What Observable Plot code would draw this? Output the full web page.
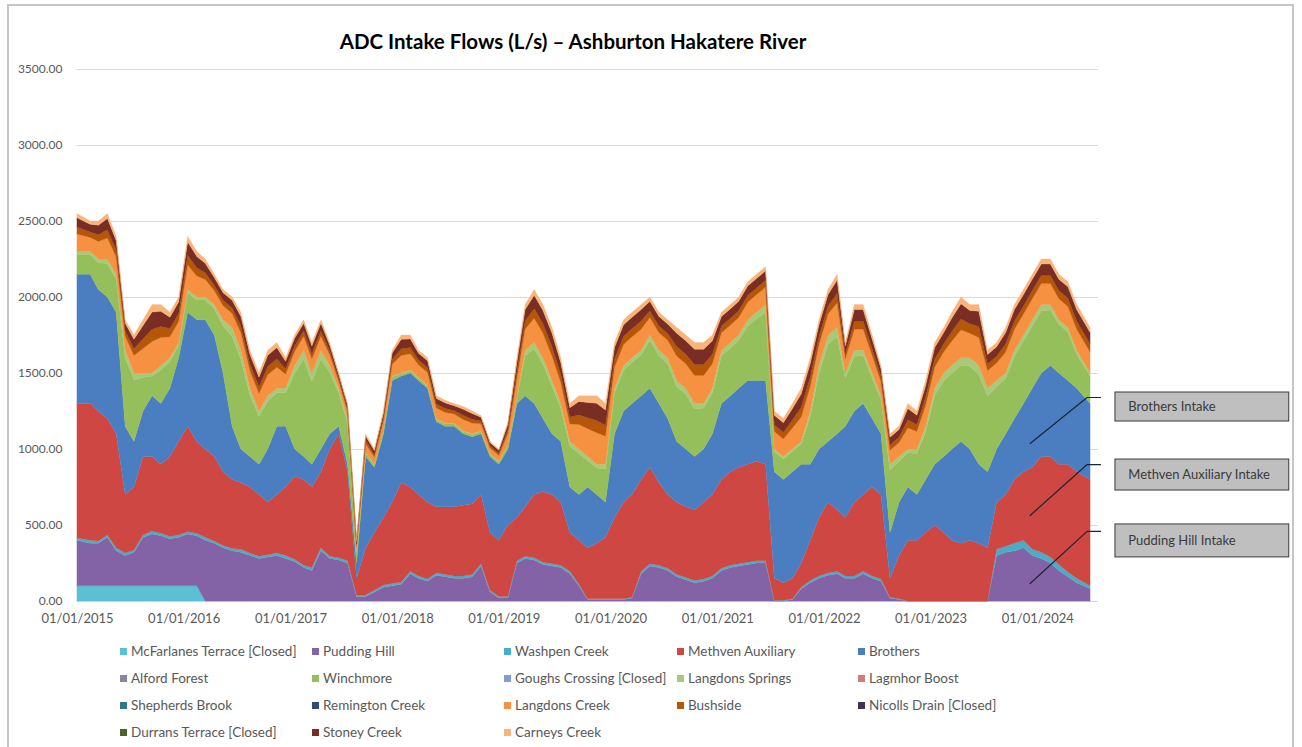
<!DOCTYPE html>
<html>
<head>
<meta charset="utf-8">
<script src="https://cdn.jsdelivr.net/npm/d3@7"></script>
<script src="https://cdn.jsdelivr.net/npm/@observablehq/plot@0.6"></script>
<style>
  html, body { margin: 0; padding: 0; background: #fff; }
  body { width: 1302px; height: 747px; position: relative; overflow: hidden; font-family: Lato, "Open Sans", sans-serif; }
  #frame { position: absolute; left: 7px; top: 4px; width: 1287px; height: 800px; border: 2px solid #c6c6c6; box-sizing: border-box; }
  #title { position: absolute; left: 0; top: 29px; width: 1146px; text-align: center; font-weight: 700; font-size: 20.5px; color: #000; z-index: 2; }
  #chart { position: absolute; left: 0; top: 0; z-index: 1; }
  #legend { position: absolute; left: 0; top: 0; width: 1302px; height: 747px; z-index: 2; font-size: 13.5px; color: #595959; }
  .item { position: absolute; white-space: nowrap; line-height: 16px; }
  .sw { display: inline-block; width: 7px; height: 7px; margin-right: 4px; vertical-align: 1px; }
</style>
</head>
<body>
<div id="frame"></div>
<div id="title">ADC Intake Flows (L/s) – Ashburton Hakatere River</div>
<div id="chart"></div>
<div id="legend"></div>
<script>
// ---------- DATA (monthly readings, Jan 2015 – Jun 2024, L/s) ----------
const seriesNames = [
  "McFarlanes Terrace [Closed]", "Pudding Hill", "Washpen Creek", "Methven Auxiliary", "Brothers",
  "Alford Forest", "Winchmore", "Goughs Crossing [Closed]", "Langdons Springs", "Lagmhor Boost",
  "Shepherds Brook", "Remington Creek", "Langdons Creek", "Bushside", "Nicolls Drain [Closed]",
  "Durrans Terrace [Closed]", "Stoney Creek", "Carneys Creek"
];
const seriesColors = [
  "#5cbfd2", "#8462a6", "#4bacc6", "#cf4742", "#4a7ec0",
  "#8c84a6", "#95bf5a", "#7f9fd3", "#a9c97a", "#d07c79",
  "#2e7a8c", "#2c4d75", "#f59140", "#b65708", "#403152",
  "#4f6228", "#7a2d22", "#f9b47a"
];
const tickYears = [2015, 2016, 2017, 2018, 2019, 2020, 2021, 2022, 2023, 2024];
const yTicks = [0, 500, 1000, 1500, 2000, 2500, 3000, 3500];

const mcfarlanesTerrace = [
  100,100,100,100,100,100,100,100,100,100,100,100,
  100,100,0,0,0,0,0,0,0,0,0,0,
  0,0,0,0,0,0,0,0,0,0,0,0,
  0,0,0,0,0,0,0,0,0,0,0,0,
  0,0,0,0,0,0,0,0,0,0,0,0,
  0,0,0,0,0,0,0,0,0,0,0,0,
  0,0,0,0,0,0,0,0,0,0,0,0,
  0,0,0,0,0,0,0,0,0,0,0,0,
  0,0,0,0,0,0,0,0,0,0,0,0,
  0,0,0,0,0,0
];
const puddingHill = [
  300,280,280,320,230,200,220,320,340,330,310,320,
  340,330,400,380,350,330,320,300,280,290,300,280,
  260,220,200,330,280,270,250,30,30,60,90,100,
  110,180,150,130,170,160,150,150,160,230,60,20,
  20,250,280,270,240,230,220,180,100,10,10,10,
  10,10,20,180,230,220,200,160,140,120,130,150,
  200,220,230,240,250,250,0,0,10,80,120,150,
  170,180,150,150,180,150,130,20,10,0,0,0,
  0,0,0,0,0,0,0,300,320,330,350,300,
  280,250,200,160,120,80
];
const washpenCreek = [
  15,20,15,15,20,15,15,15,20,15,15,15,
  15,15,20,15,15,15,20,15,15,15,15,20,
  15,15,20,20,15,15,15,10,10,10,15,15,
  15,15,15,15,15,15,15,15,15,15,10,10,
  10,15,15,15,15,15,15,15,10,5,5,5,
  5,5,5,15,15,15,15,15,15,15,15,15,
  15,15,15,15,15,15,5,5,5,10,15,15,
  15,15,15,15,15,15,15,5,5,0,0,0,
  0,0,0,0,0,0,0,40,40,50,50,40,
  40,40,40,30,30,20
];
const methvenAuxiliary = [
  885,900,855,765,750,385,415,515,490,455,525,615,
  695,605,580,555,485,455,440,435,405,345,385,450,
  545,565,530,500,705,815,585,110,310,380,445,535,
  655,555,535,505,435,445,455,465,465,455,380,370,
  470,285,325,415,465,455,415,255,290,335,365,405,
  535,635,675,605,635,545,485,475,465,465,505,535,
  585,615,635,645,655,635,145,115,135,160,265,385,
  465,405,385,485,505,585,555,125,285,400,400,450,
  500,450,400,380,400,380,350,310,340,420,450,540,
  630,660,660,710,700,700
];
const brothers = [
  850,850,800,800,800,450,300,300,400,400,450,550,
  750,800,850,800,650,350,220,200,200,350,450,400,
  180,150,150,150,100,50,50,100,600,430,550,800,
  700,750,750,750,560,530,530,470,440,400,500,500,
  500,750,730,600,480,400,400,300,300,400,320,230,
  550,600,600,550,520,520,500,400,380,350,350,400,
  500,500,520,550,530,550,700,680,700,650,500,450,
  400,500,600,600,600,450,400,300,350,350,300,350,
  400,500,600,670,600,520,500,350,400,400,450,520,
  550,600,600,550,550,500
];
const winchmore = [
  130,130,175,220,220,450,405,220,130,220,175,85,
  130,130,130,175,310,590,590,405,315,315,220,220,
  500,640,545,590,405,220,270,70,25,15,25,25,
  15,15,15,15,15,15,15,15,15,15,15,15,
  25,40,265,360,360,315,220,270,270,175,175,220,
  270,270,270,270,315,315,360,360,360,315,270,270,
  315,315,315,360,405,450,135,135,135,135,315,500,
  640,640,315,360,315,270,225,410,270,225,270,315,
  455,500,500,500,545,590,500,410,365,410,410,410,
  410,365,320,320,225,180
];
const langdonsSprings = [
  20,20,25,30,30,50,45,30,20,30,25,15,
  20,20,20,25,40,60,60,45,35,35,30,30,
  50,60,55,60,45,30,30,10,5,5,5,5,
  5,5,5,5,5,5,5,5,5,5,5,5,
  5,10,35,40,40,35,30,30,30,25,25,30,
  30,30,30,30,35,35,40,40,40,35,30,30,
  35,35,35,40,45,50,15,15,15,15,35,50,
  60,60,35,40,35,30,25,40,30,25,30,35,
  45,50,50,50,55,60,50,40,35,40,40,40,
  40,35,30,30,25,20
];
const langdonsCreek = [
  115,92,115,138,115,92,115,161,207,184,138,138,
  161,138,115,92,92,92,115,115,115,138,138,92,
  92,92,92,92,70,46,46,32,55,46,55,78,
  115,106,83,83,70,70,60,74,70,46,37,37,
  70,115,138,161,161,161,138,115,161,184,207,184,
  138,138,138,138,115,115,115,161,161,184,184,161,
  115,115,115,115,115,115,115,115,138,161,161,138,
  138,161,92,138,138,115,92,92,92,138,115,138,
  138,138,161,184,161,184,115,115,138,138,138,138,
  138,138,138,138,138,138
];
const bushside = [
  45,36,45,54,45,36,45,63,81,72,54,54,
  63,54,45,36,36,36,45,45,45,54,54,36,
  36,36,36,36,26,18,18,13,22,18,22,30,
  45,41,32,32,26,26,23,28,26,18,15,15,
  26,45,54,63,63,63,54,45,63,72,81,72,
  54,54,54,54,45,45,45,63,63,72,72,63,
  45,45,45,45,45,45,45,45,54,63,63,54,
  54,63,36,54,54,45,36,36,36,54,45,54,
  54,54,63,72,63,72,45,45,54,54,54,54,
  54,54,54,54,54,54
];
const stoneyCreek = [
  62,50,62,75,62,50,62,88,113,100,75,75,
  88,75,62,50,50,50,62,62,62,75,75,50,
  50,50,50,50,37,25,25,17,29,25,29,43,
  62,57,45,45,37,37,32,40,37,25,19,19,
  37,62,75,88,88,88,75,62,88,100,113,100,
  75,75,75,75,62,62,62,88,88,100,100,88,
  62,62,62,62,62,62,62,62,75,88,88,75,
  75,88,50,75,75,62,50,50,50,75,62,75,
  75,75,88,100,88,100,62,62,75,75,75,75,
  75,75,75,75,75,75
];
const carneysCreek = [
  28,22,28,33,28,22,28,38,49,44,33,33,
  38,33,28,22,22,22,28,28,28,33,33,22,
  22,22,22,22,17,11,11,8,14,11,14,19,
  28,26,20,20,17,17,15,18,17,11,9,9,
  17,28,33,38,38,38,33,28,38,44,49,44,
  33,33,33,33,28,28,28,38,38,44,44,38,
  28,28,28,28,28,28,28,28,33,38,38,33,
  33,38,22,33,33,28,22,22,22,33,28,33,
  33,33,38,44,38,44,28,28,33,33,33,33,
  33,33,33,33,33,33
];

// Callout boxes (positions given in chart data units)
const callouts = [
  {label: "Brothers Intake", target: "2023-12-06", targetValue: 1040, elbowValue: 1342, boxTop: 1375, boxBottom: 1184, textValue: 1280},
  {label: "Methven Auxiliary Intake", target: "2023-12-06", targetValue: 566, elbowValue: 901, boxTop: 934, boxBottom: 730, textValue: 832},
  {label: "Pudding Hill Intake", target: "2023-12-06", targetValue: 118, elbowValue: 461, boxTop: 507, boxBottom: 290, textValue: 401}
];
const calloutElbowDate = "2024-06-18", calloutLineEnd = "2024-08-03";
const calloutBoxStart = "2024-09-23", calloutBoxEnd = "2026-05-11", calloutTextStart = "2024-11-06";

// ---------- BUILD ----------
const n = puddingHill.length;
const months = d3.range(n).map(i => new Date(Date.UTC(2015, i, 15)));
months[0] = new Date(Date.UTC(2015, 0, 1));
months[n - 1] = new Date(Date.UTC(2024, 5, 30));

const stacked = [
  ["McFarlanes Terrace [Closed]", mcfarlanesTerrace],
  ["Pudding Hill", puddingHill],
  ["Washpen Creek", washpenCreek],
  ["Methven Auxiliary", methvenAuxiliary],
  ["Brothers", brothers],
  ["Winchmore", winchmore],
  ["Langdons Springs", langdonsSprings],
  ["Langdons Creek", langdonsCreek],
  ["Bushside", bushside],
  ["Stoney Creek", stoneyCreek],
  ["Carneys Creek", carneysCreek]
];
const rows = stacked.flatMap(([name, vals]) => vals.map((v, i) => ({date: months[i], series: name, value: v})));
const order = stacked.map(d => d[0]);

const D = s => new Date(s + "T00:00:00Z");
const lineRows = callouts.flatMap(c => [
  {id: c.label, date: D(c.target), value: c.targetValue},
  {id: c.label, date: D(calloutElbowDate), value: c.elbowValue},
  {id: c.label, date: D(calloutLineEnd), value: c.elbowValue}
]);
const boxRows = callouts.map(c => ({...c, x1: D(calloutBoxStart), x2: D(calloutBoxEnd), tx: D(calloutTextStart)}));

const chart = Plot.plot({
  width: 1302,
  height: 640,
  marginLeft: 77,
  marginRight: 204,
  marginTop: 69,
  marginBottom: 39,
  style: {fontFamily: "Lato, 'Open Sans', sans-serif", color: "#595959", background: "transparent", overflow: "visible"},
  x: {type: "utc", domain: [new Date(Date.UTC(2015, 0, 1)), new Date(Date.UTC(2024, 6, 27))]},
  y: {domain: [0, 3500]},
  color: {domain: seriesNames, range: seriesColors},
  marks: [
    Plot.ruleY(yTicks, {stroke: "#d9d9d9", strokeWidth: 1}),
    Plot.areaY(rows, {x: "date", y: "value", fill: "series", order, stroke: "series", strokeWidth: 0.3}),
    Plot.axisX(tickYears.map(y => new Date(Date.UTC(y, 0, 1))), {
      tickFormat: d3.utcFormat("%d/%m/%Y"), tickSize: 0, tickPadding: 12, fontSize: 13, fill: "#595959", label: null
    }),
    Plot.axisY(yTicks, {
      tickFormat: d3.format(".2f"), tickSize: 0, tickPadding: 15, fontSize: 12, fill: "#595959", label: null
    }),
    Plot.line(lineRows, {x: "date", y: "value", z: "id", stroke: "#1c2438", strokeWidth: 1.2}),
    Plot.rect(boxRows, {x1: "x1", x2: "x2", y1: "boxBottom", y2: "boxTop", fill: "#bfbfbf", stroke: "#3a3a3a", strokeWidth: 1}),
    Plot.text(boxRows, {x: "tx", y: "textValue", text: "label", textAnchor: "start", fontSize: 13, fill: "#3a3a3a"})
  ]
});
document.getElementById("chart").appendChild(chart);

// ---------- LEGEND ----------
const legendCols = [120, 312, 504, 677, 858];
const legendRows = [651, 678, 705, 732];
const legend = document.getElementById("legend");
seriesNames.forEach((name, i) => {
  const col = i % 5, row = Math.floor(i / 5);
  const el = document.createElement("div");
  el.className = "item";
  el.style.left = legendCols[col] + "px";
  el.style.top = (legendRows[row] - 8) + "px";
  el.innerHTML = `<span class="sw" style="background:${seriesColors[i]}"></span>${name}`;
  legend.appendChild(el);
});
</script>
</body>
</html>
